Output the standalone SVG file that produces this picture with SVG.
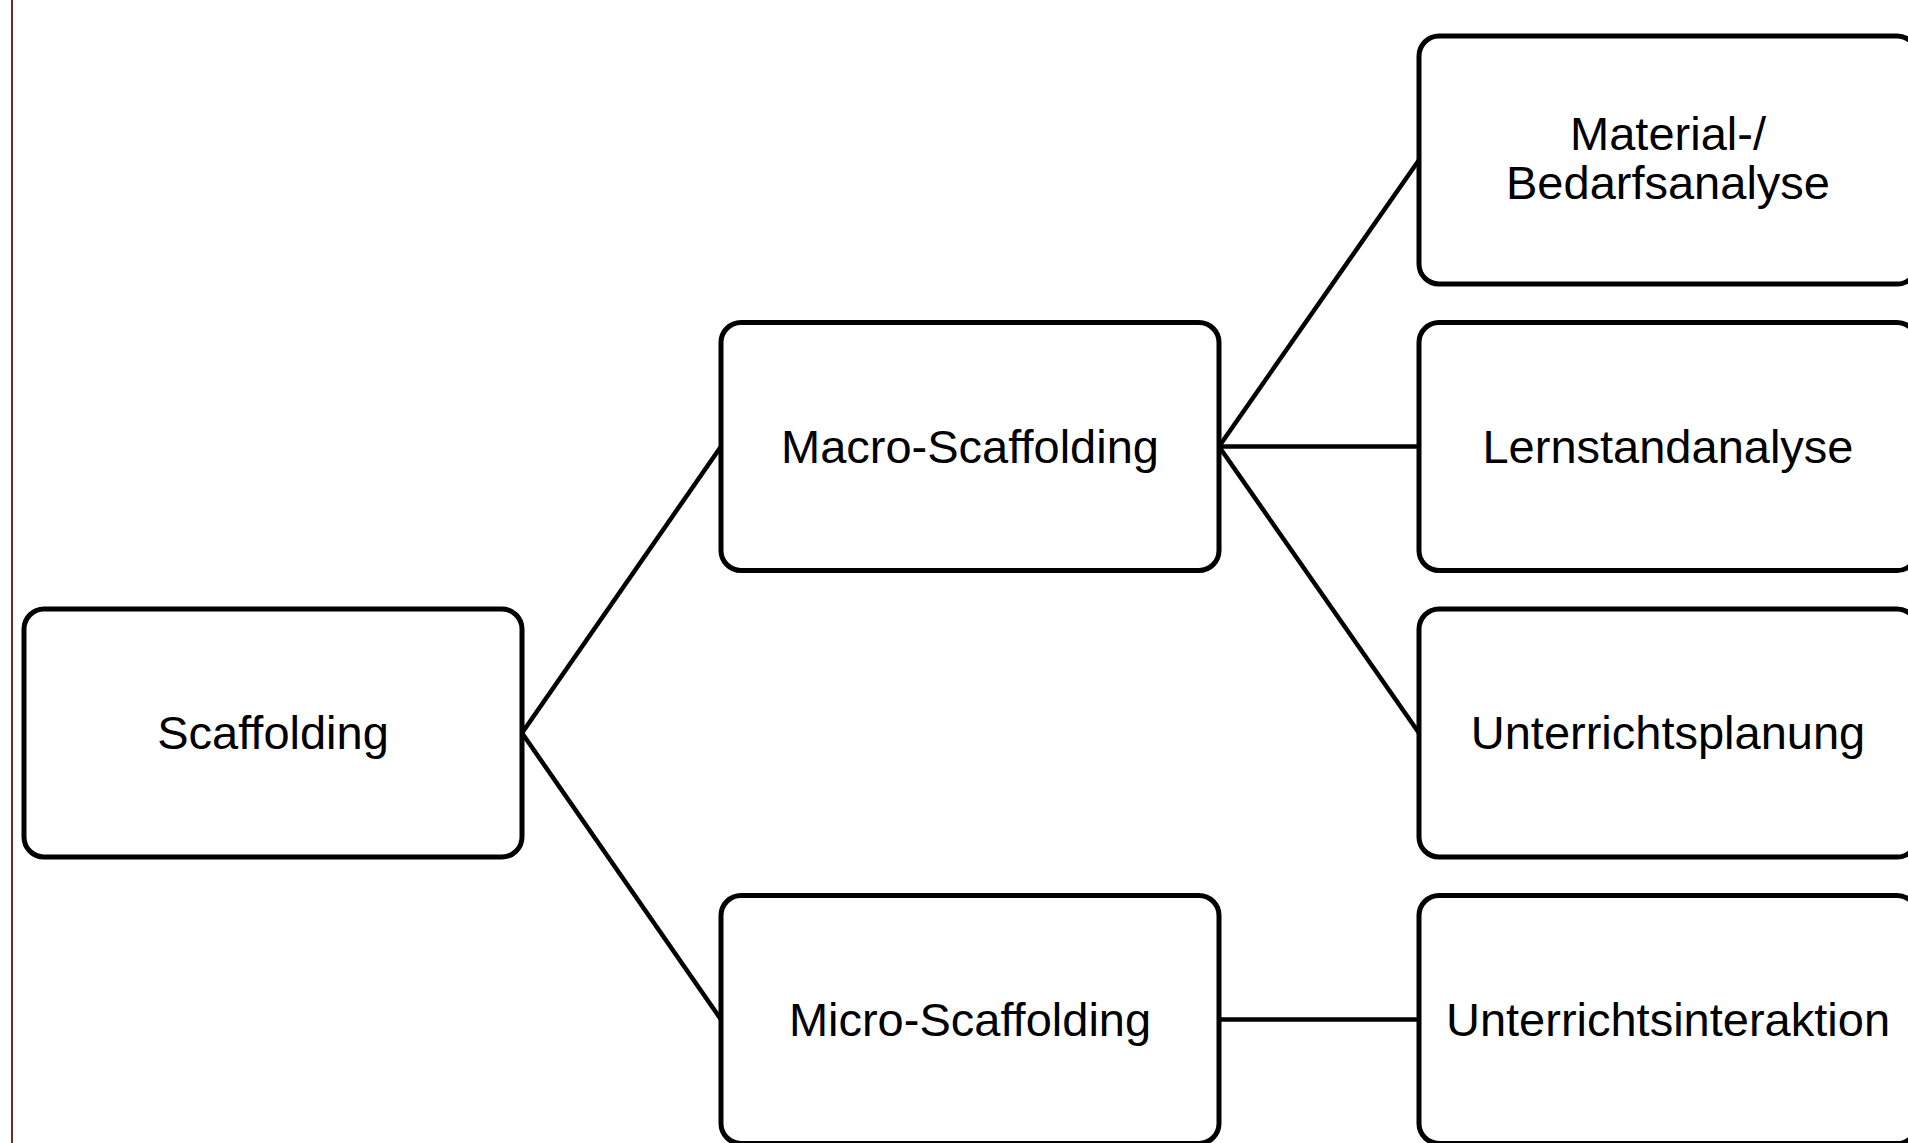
<svg xmlns="http://www.w3.org/2000/svg" width="1908" height="1143" viewBox="0 0 1908 1143">
<style>
.box{fill:#fff;stroke:#000;stroke-width:5}
.lbl{font-family:"Liberation Sans",Arial,sans-serif;font-size:47px;fill:#000;text-anchor:middle}
.con{stroke:#000;stroke-width:4.5;fill:none}
</style>
<rect x="0" y="0" width="1908" height="1143" fill="#fff"/>
<line x1="12" y1="0" x2="12" y2="1143" stroke="#6e2a2a" stroke-width="2"/>
<g id="connectors">
<line class="con" x1="522" y1="733" x2="721" y2="446.5"/>
<line class="con" x1="522" y1="733" x2="721" y2="1019.5"/>
<line class="con" x1="1219" y1="446.5" x2="1419" y2="160"/>
<line class="con" x1="1219" y1="446.5" x2="1419" y2="446.5"/>
<line class="con" x1="1219" y1="446.5" x2="1419" y2="733"/>
<line class="con" x1="1219" y1="1019.5" x2="1419" y2="1019.5"/>
</g>
<g id="scaffolding">
<rect class="box" x="24" y="609" width="498" height="248" rx="20"/>
<text class="lbl" x="273" y="749">Scaffolding</text>
</g>
<g id="macro">
<rect class="box" x="721" y="322.5" width="498" height="248" rx="20"/>
<text class="lbl" x="970" y="462.5">Macro-Scaffolding</text>
</g>
<g id="micro">
<rect class="box" x="721" y="895.5" width="498" height="248" rx="20"/>
<text class="lbl" x="970" y="1035.5">Micro-Scaffolding</text>
</g>
<g id="material">
<rect class="box" x="1419" y="36" width="498" height="248" rx="20"/>
<text class="lbl" x="1668" y="150">Material-/</text>
<text class="lbl" x="1668" y="199">Bedarfsanalyse</text>
</g>
<g id="lernstand">
<rect class="box" x="1419" y="322.5" width="498" height="248" rx="20"/>
<text class="lbl" x="1668" y="462.5">Lernstandanalyse</text>
</g>
<g id="planung">
<rect class="box" x="1419" y="609" width="498" height="248" rx="20"/>
<text class="lbl" x="1668" y="749">Unterrichtsplanung</text>
</g>
<g id="interaktion">
<rect class="box" x="1419" y="895.5" width="498" height="248" rx="20"/>
<text class="lbl" x="1668" y="1035.5">Unterrichtsinteraktion</text>
</g>
</svg>
